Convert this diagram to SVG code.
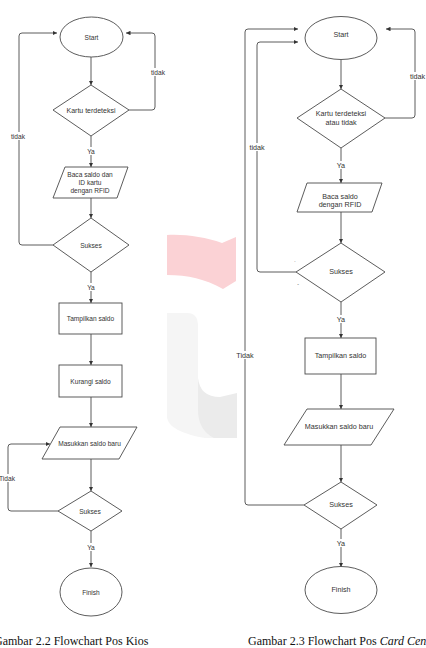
<svg xmlns="http://www.w3.org/2000/svg" width="426" height="648" viewBox="0 0 426 648">
<style>
.sh{fill:#fff;stroke:#4a4a4a;stroke-width:0.9}
.cn{fill:none;stroke:#4a4a4a;stroke-width:0.9;marker-end:url(#ah)}
.t{font-family:"Liberation Sans",Arial,sans-serif;font-size:6.6px;fill:#333;text-anchor:middle;dominant-baseline:central}
.t2{font-size:7.2px}
.lb{fill:#fff}
.cap{font-family:"Liberation Serif","Times New Roman",serif;font-size:12px;fill:#111}
</style>
<defs>
<marker id="ah" viewBox="0 0 10 10" refX="10" refY="5" markerWidth="4.5" markerHeight="4.5" markerUnits="userSpaceOnUse" orient="auto">
<path d="M0,0 L10,5 L0,10 Z" fill="#333"/>
</marker>
</defs>
<rect width="426" height="648" fill="#fff"/>
<g id="watermark">
<path d="M167,235 C185,234 205,237 222,243 L236,237 L236,281 L223,289 C205,279 188,275 167,275 Z" fill="#fbd2d5"/>
<path d="M167,313 H187 Q198,313 198,326 V378 Q198,438 237,438 V438 H205 Q170,432 167,418 Z" fill="#f5f5f5"/>
<path d="M198,378 Q200,397 220,397 L237,393 V438 H214 Q198,430 198,410 Z" fill="#ebebeb"/>
</g>
<g id="connectors">
<path class="cn" d="M91,57 V85"/>
<path class="cn" d="M129,110 H152 Q155,110 155,107 V36 Q155,33 152,33 H126"/>
<path class="cn" d="M91,136 V167"/>
<path class="cn" d="M91,198 V218"/>
<path class="cn" d="M53,245 H22 Q19,245 19,242 V36 Q19,33 22,33 H57"/>
<path class="cn" d="M91,272 V303"/>
<path class="cn" d="M91,334 V365"/>
<path class="cn" d="M91,397 V427"/>
<path class="cn" d="M91,459 V491"/>
<path class="cn" d="M58,511 H11 Q8,511 8,508 V447 Q8,444 11,444 H50"/>
<path class="cn" d="M91,531 V567"/>
<path class="cn" d="M341,60 V89"/>
<path class="cn" d="M385,118 H412 Q415,118 415,115 V32 Q415,29 412,29 H386"/>
<path class="cn" d="M341,148 V183"/>
<path class="cn" d="M341,212 V243"/>
<path class="cn" d="M296,272 H260 Q257,272 257,269 V45 Q257,42 260,42 H298"/>
<path class="cn" d="M341,302 V338"/>
<path class="cn" d="M341,374 V409"/>
<path class="cn" d="M341,445 V482"/>
<path class="cn" d="M304,505 H248 Q245,505 245,502 V32 Q245,29 248,29 H298"/>
<path class="cn" d="M341,529 V567"/>
</g>
<g id="labels">
<rect class="lb" x="151" y="68" width="14" height="8"/>
<text class="t" x="158" y="72">tidak</text>
<rect class="lb" x="11" y="132" width="14" height="8"/>
<text class="t" x="18" y="136">tidak</text>
<rect class="lb" x="86" y="147" width="10" height="8"/>
<text class="t" x="91" y="151">Ya</text>
<rect class="lb" x="86" y="283" width="10" height="8"/>
<text class="t" x="91" y="287">Ya</text>
<rect class="lb" x="0" y="474" width="16" height="8"/>
<text class="t" x="7" y="478">Tidak</text>
<rect class="lb" x="86" y="543" width="10" height="8"/>
<text class="t" x="91" y="547">Ya</text>
<rect class="lb" x="410" y="72" width="16" height="8"/>
<text class="t t2" x="417.5" y="76">tidak</text>
<rect class="lb" x="250" y="143" width="15" height="8"/>
<text class="t t2" x="257" y="147">tidak</text>
<rect class="lb" x="335" y="161" width="12" height="8"/>
<text class="t t2" x="341" y="165">Ya</text>
<rect class="lb" x="335" y="315" width="12" height="8"/>
<text class="t t2" x="341" y="319">Ya</text>
<rect class="lb" x="237" y="351" width="17" height="8"/>
<text class="t t2" x="245" y="355">Tidak</text>
<rect class="lb" x="335" y="539" width="12" height="8"/>
<text class="t t2" x="341" y="543">Ya</text>
<text class="t" x="295" y="260" style="font-size:4px">-</text>
<text class="t" x="298" y="284" style="font-size:5px">-</text>
</g>
<g id="l-start"><ellipse class="sh" cx="91.5" cy="37" rx="31.5" ry="20"/><text class="t" x="91.5" y="37">Start</text></g>
<g id="l-kartu"><polygon class="sh" points="91,85 129,110 91,136 53,110"/><text class="t" x="91" y="110" style="font-size:7px">Kartu terdeteksi</text></g>
<g id="l-baca"><polygon class="sh" points="65,167 128,167 117,198 53,198"/><text class="t" x="90" y="174.5">Baca saldo dan</text><text class="t" x="90" y="182.5">ID kartu</text><text class="t" x="90" y="190.5">dengan RFID</text></g>
<g id="l-sukses1"><polygon class="sh" points="91,218 129,245 91,272 53,245"/><text class="t" x="91" y="245">Sukses</text></g>
<g id="l-tampil"><rect class="sh" x="59" y="303" width="63" height="31"/><text class="t" x="90.5" y="318.5">Tampilkan saldo</text></g>
<g id="l-kurangi"><rect class="sh" x="59" y="365" width="63" height="32"/><text class="t" x="90.5" y="381">Kurangi saldo</text></g>
<g id="l-masuk"><polygon class="sh" points="60,427 137,427 119,459 42,459"/><text class="t" x="89.5" y="443">Masukkan saldo baru</text></g>
<g id="l-sukses2"><polygon class="sh" points="91,491 122,511 91,531 58,511"/><text class="t" x="90" y="511">Sukses</text></g>
<g id="l-finish"><ellipse class="sh" cx="91" cy="592" rx="31" ry="24"/><text class="t" x="91" y="592">Finish</text></g>
<g id="r-start"><ellipse class="sh" cx="341" cy="38" rx="36" ry="21.5"/><text class="t t2" x="341" y="34">Start</text></g>
<g id="r-kartu"><polygon class="sh" points="341,89 385,118 341,148 297,118"/><text class="t t2" x="341" y="113">Kartu terdeteksi</text><text class="t t2" x="341" y="122.5">atau tidak</text></g>
<g id="r-baca"><polygon class="sh" points="307,183 382,183 372,212 297,212"/><text class="t t2" x="340" y="196">Baca saldo</text><text class="t t2" x="340" y="204.5">dengan RFID</text></g>
<g id="r-sukses1"><polygon class="sh" points="341,243 385,272 341,302 296,272"/><text class="t t2" x="341" y="271">Sukses</text></g>
<g id="r-tampil"><rect class="sh" x="305" y="338" width="71" height="36"/><text class="t t2" x="340.5" y="355">Tampilkan saldo</text></g>
<g id="r-masuk"><polygon class="sh" points="307,409 394,409 371,445 284,445"/><text class="t t2" x="339" y="426">Masukkan saldo baru</text></g>
<g id="r-sukses2"><polygon class="sh" points="341,482 377,505 341,529 304,505"/><text class="t t2" x="341" y="504">Sukses</text></g>
<g id="r-finish"><ellipse class="sh" cx="341" cy="590" rx="36" ry="23.5"/><text class="t t2" x="341" y="589">Finish</text></g>
<text class="cap" x="-6" y="645">Gambar 2.2 Flowchart Pos Kios</text>
<text class="cap" x="248" y="645">Gambar 2.3 Flowchart Pos <tspan font-style="italic">Card Cen</tspan></text>
</svg>
